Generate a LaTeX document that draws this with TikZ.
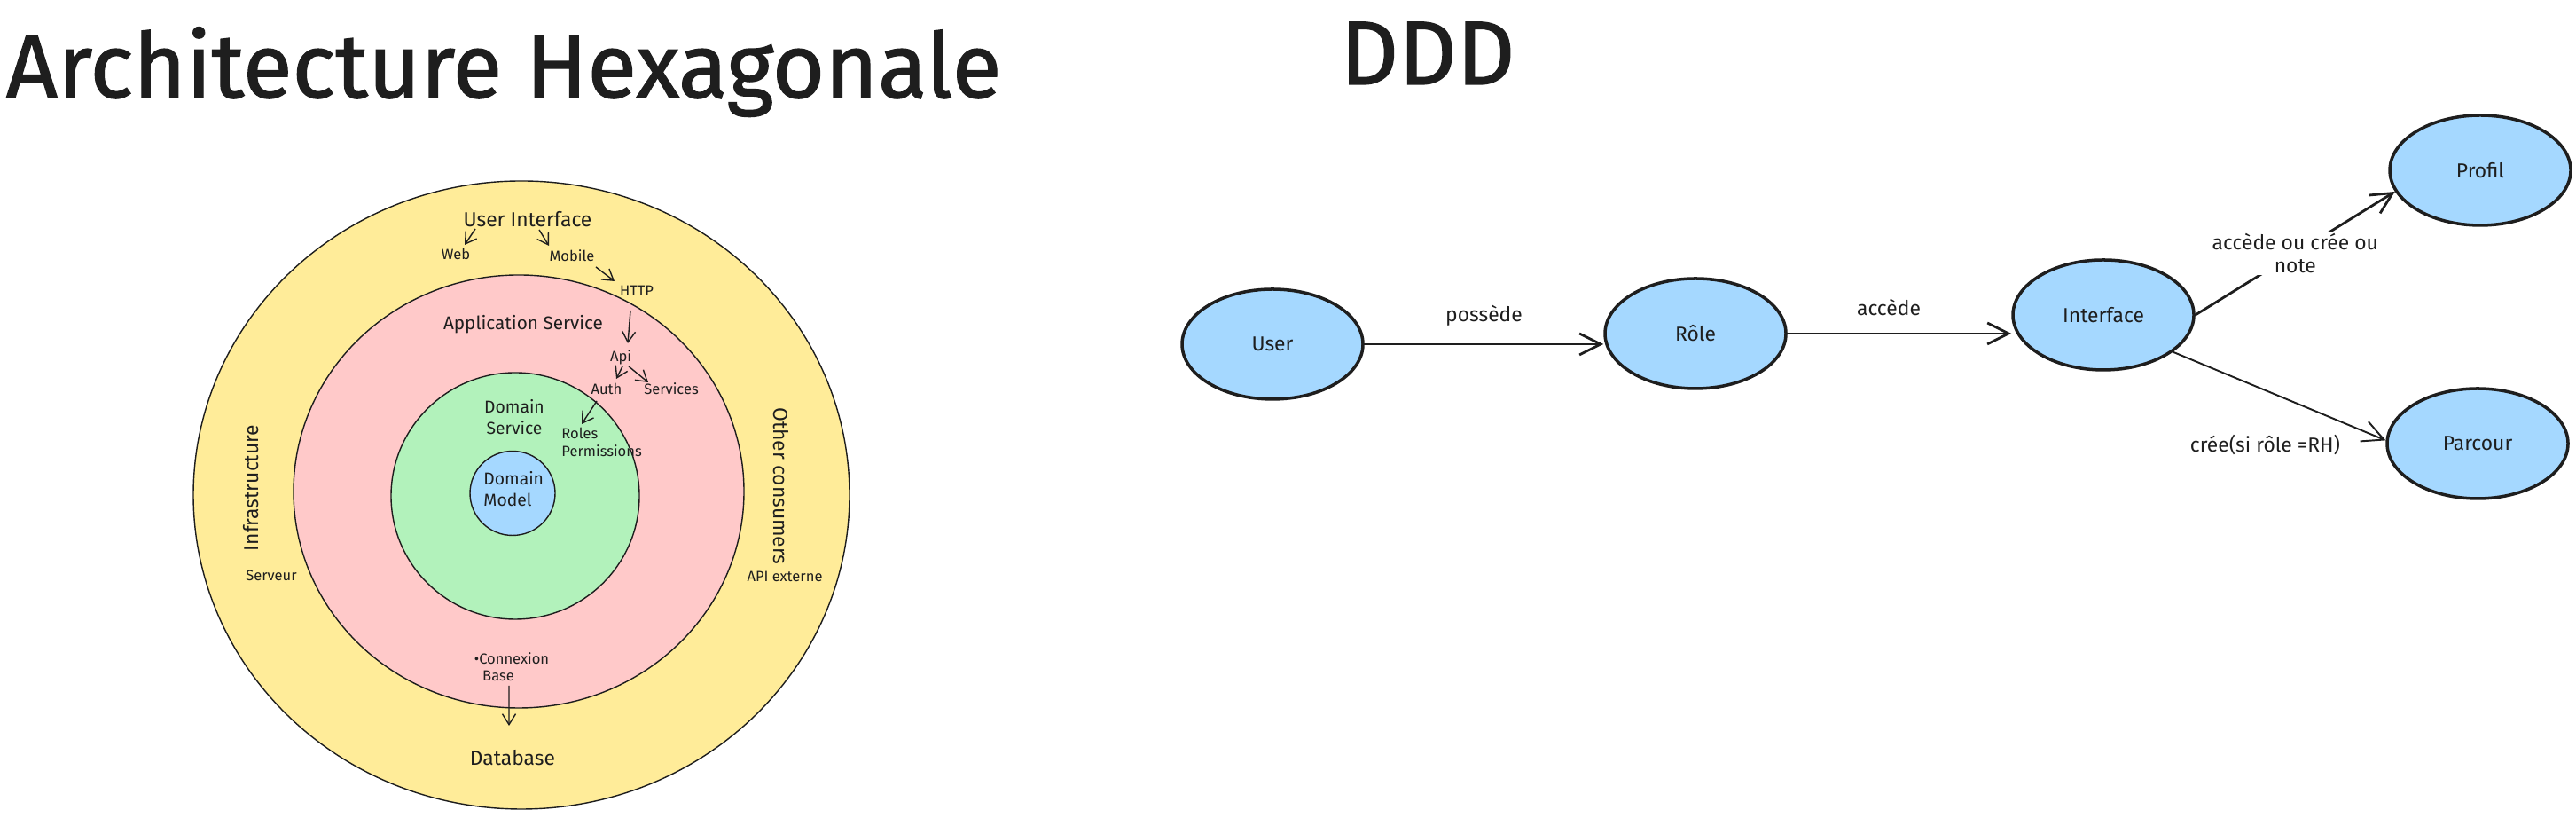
\documentclass[tikz,border=0pt]{standalone}
\usepackage{fontspec}
\setmainfont{Fira Sans}
\newfontfamily\ttlfont{Fira Sans}[FakeBold=1.2]
\usetikzlibrary{arrows.meta,shapes.geometric}

\definecolor{hyellow}{HTML}{FFEC99}
\definecolor{hpink}{HTML}{FFC9C9}
\definecolor{hgreen}{HTML}{B2F2BB}
\definecolor{hblue}{HTML}{A5D8FF}
\definecolor{ink}{HTML}{1E1E1E}

\begin{document}
\begin{tikzpicture}[
  ttl/.style={inner sep=0pt, anchor=base, text=ink, font=\ttlfont\fontsize{29}{31}\selectfont},
  lbl/.style={inner sep=0.5pt, text=ink, font=\fontsize{6.5}{7.4}\selectfont},
  mdl/.style={inner sep=0.5pt, text=ink, font=\fontsize{5.5}{6.9}\selectfont},
  sml/.style={inner sep=0.5pt, text=ink, font=\fontsize{4.7}{5.7}\selectfont},
  ring/.style={draw=ink, line width=0.4pt},
  harr/.style={draw=ink, line width=0.4pt, -{Straight Barb[length=1.2mm,width=1.5mm]}},
  dv/.style={ellipse, draw=ink, fill=hblue, line width=1pt, minimum width=2.04cm,
    minimum height=1.24cm, inner sep=0pt, text=ink, font=\fontsize{6.5}{7.4}\selectfont},
  darr/.style={draw=ink, line width=0.8pt, -{Straight Barb[length=2.4mm,width=2.4mm]}}]

  \useasboundingbox (0,0) rectangle (29.05,9.22);

  \node[ttl] (archi) at (5.68,8.12) {Architecture Hexagonale};
  \node[ttl] (ddd) at (16.10,8.27) {DDD};

  \filldraw[ring, fill=hyellow] (5.88,3.64) ellipse (3.70 and 3.54);
  \filldraw[ring, fill=hpink] (5.85,3.68) ellipse (2.54 and 2.44);
  \filldraw[ring, fill=hgreen] (5.81,3.63) ellipse (1.40 and 1.39);
  \filldraw[ring, fill=hblue] (5.78,3.66) ellipse (0.48 and 0.475);

  \node[lbl] (ui) at (5.95,6.75) {User Interface};
  \node[sml] (web) at (5.14,6.36) {Web};
  \node[sml] (mobile) at (6.45,6.34) {Mobile};
  \node[sml] (http) at (7.18,5.94) {HTTP};
  \node[lbl, font=\fontsize{5.9}{7}\selectfont] (appsrv) at (5.90,5.56) {Application Service};
  \node[sml] (api) at (7.00,5.19) {Api};
  \node[sml] (auth) at (6.84,4.84) {Auth};
  \node[sml] (services) at (7.57,4.84) {Services};
  \node[mdl, align=center] (domsrv) at (5.80,4.52) {Domain\\Service};
  \node[sml, anchor=west] (roles) at (6.31,4.34) {Roles};
  \node[sml, anchor=west] (perms) at (6.31,4.14) {Permissions};
  \node[mdl, align=left, anchor=west] (dommodel) at (5.43,3.71) {Domain\\Model};
  \node[lbl, rotate=90] (infra) at (2.83,3.72) {Infrastructure};
  \node[lbl, rotate=-90] (other) at (8.81,3.74) {Other consumers};
  \node[sml] (serveur) at (3.06,2.73) {Serveur};
  \node[sml] (apiext) at (8.85,2.72) {API externe};
  \node[sml] (connexion) at (5.77,1.80) {•Connexion};
  \node[sml] (base) at (5.62,1.60) {Base};
  \node[lbl] (database) at (5.78,0.68) {Database};

  \draw[harr] ([shift={(-0.59,-0.11)}]ui.center) -- ([shift={(0.10,0.10)}]web.center);
  \draw[harr] ([shift={(0.13,-0.12)}]ui.center) -- ([shift={(-0.26,0.11)}]mobile.center);
  \draw[harr] ([shift={(0.27,-0.13)}]mobile.center) -- ([shift={(-0.25,0.11)}]http.center);
  \draw[harr] ([shift={(-0.07,-0.22)}]http.center) -- ([shift={(0.08,0.16)}]api.center);
  \draw[harr] ([shift={(0.02,-0.10)}]api.center) -- ([shift={(0.11,0.11)}]auth.center);
  \draw[harr] ([shift={(0.09,-0.10)}]api.center) -- ([shift={(-0.26,0.07)}]services.center);
  \draw[harr] ([shift={(-0.11,-0.14)}]auth.center) -- ([shift={(0.25,0.10)}]roles.west);
  \draw[harr] ([shift={(0.12,-0.11)}]base.center) -- ([shift={(-0.04,0.36)}]database.center);

  \node[dv] (user) at (14.35,5.34) {User};
  \node[dv] (role) at (19.12,5.46) {Rôle};
  \node[dv] (iface) at (23.72,5.67) {Interface};
  \node[dv] (profil) at (27.97,7.30) {Profil};
  \node[dv] (parcour) at (27.94,4.22) {Parcour};

  \draw[darr] (user.east) -- node[lbl, midway, yshift=0.32cm] {possède} (user.east -| role.west);
  \draw[darr] (role.east) -- node[lbl, midway, xshift=-0.12cm, yshift=0.29cm] {accède} (role.east -| iface.west);
  \draw[darr] (iface.east) -- node[lbl, midway, fill=white, align=center] {accède ou crée ou\\note} (profil.194);
  \draw[darr, line width=0.55pt] (iface.-28) -- node[lbl, midway, xshift=-0.16cm, yshift=-0.55cm] {crée(si rôle =RH)} (parcour.178);
\end{tikzpicture}
\end{document}
